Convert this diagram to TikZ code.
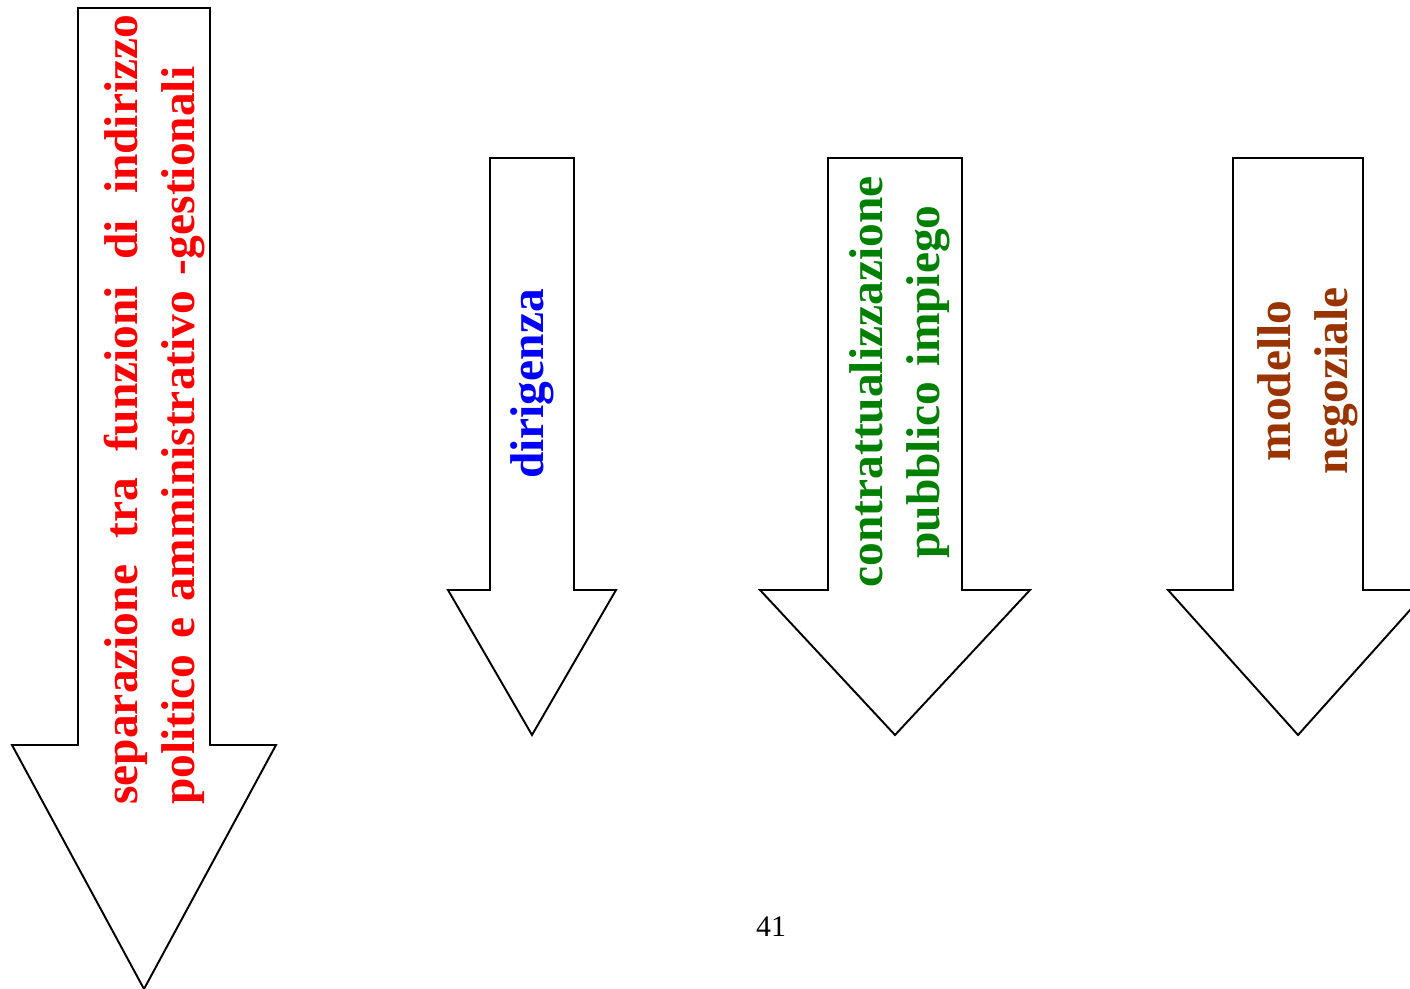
\documentclass[tikz,border=0pt]{standalone}
\usepackage{fontspec}
\setmainfont{Liberation Serif}
\usepackage{xcolor}
\usetikzlibrary{positioning}
\definecolor{darkgreen}{RGB}{0,128,0}
\definecolor{rust}{RGB}{153,51,0}

\begin{document}
\begin{tikzpicture}[x=0.02cm, y=-0.02cm,
  shape arrow/.style={draw, line width=1.1pt, line join=miter, fill=white},
  vlabel/.style={rotate=90, inner sep=0pt, font=\bfseries\fontsize{27}{33}\selectfont}
  ]
  \clip (0,0) rectangle (1410,989);
  % big arrow on the left
  \draw[shape arrow] (78,8) -- (210,8) -- (210,745) -- (276,745) -- (144,989) -- (12,745) -- (78,745) -- cycle;
  % the three smaller arrows
  \foreach \cx/\sw/\hw in {532/42/84, 895/67/135, 1298/65/130}
    \draw[shape arrow] (\cx-\sw,158) -- (\cx+\sw,158) -- (\cx+\sw,590) -- (\cx+\hw,590)
      -- (\cx,735) -- (\cx-\hw,590) -- (\cx-\sw,590) -- cycle;

  % labels
  \node[vlabel, red, text width=15.8cm, align=left, anchor=base west] (separazione) at (137,805)
    {\hbox to 15.8cm{separazione\hfill tra\hfill funzioni\hfill di\hfill indirizzo}\\ politico e amministrativo -gestionali};
  \node[vlabel, blue, anchor=base] (dirigenza) at (543,384) {dirigenza};
  \node[vlabel, darkgreen, text width=9cm, align=center, anchor=base] (contratto) at (882,382)
    {contrattualizzazione\\ pubblico impiego};
  \node[vlabel, rust, text width=5cm, align=center, anchor=base] (modello) at (1290,381)
    {modello\\ negoziale};
  \node[font=\fontsize{17}{20}\selectfont] (pagina) at (771,927) {41};
\end{tikzpicture}
\end{document}
